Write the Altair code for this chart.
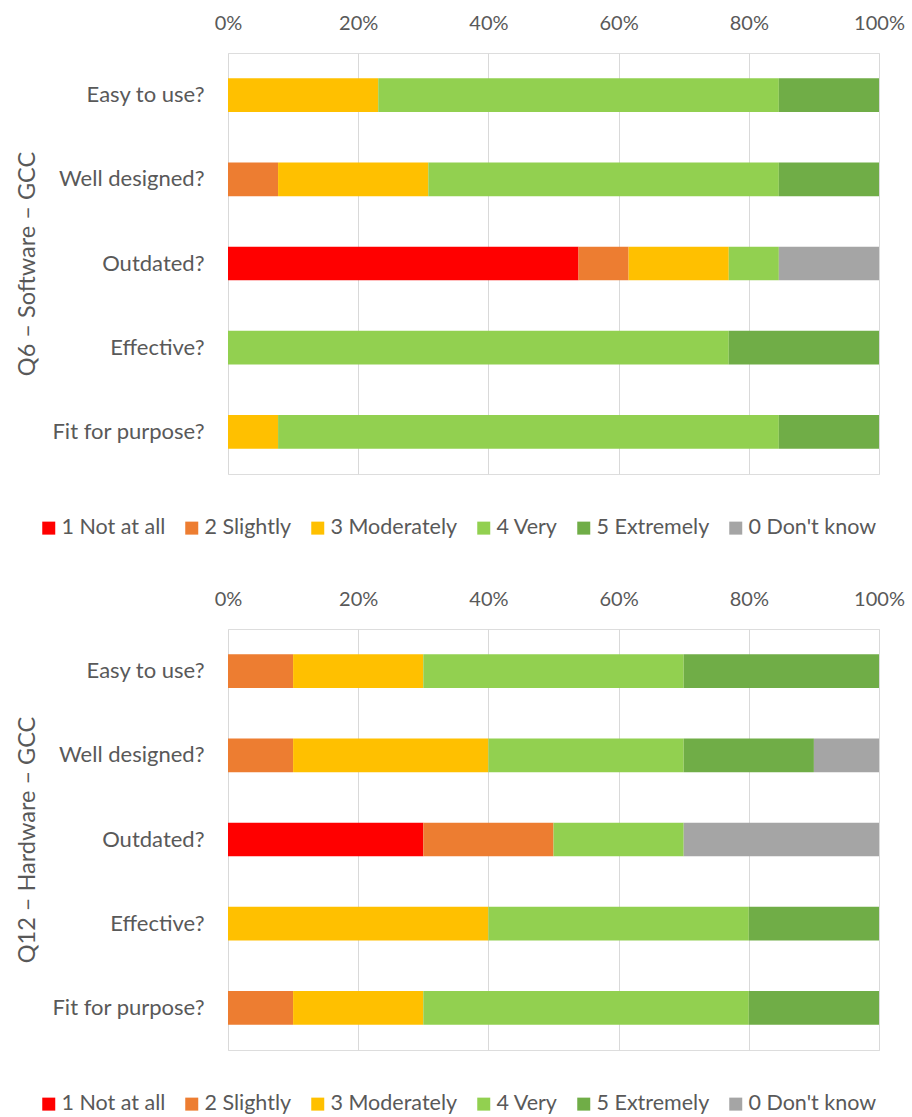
import altair as alt
import pandas as pd

# Survey questions (top to bottom) and the answer scale (stack order, left to right)
questions = ["Easy to use?", "Well designed?", "Outdated?", "Effective?", "Fit for purpose?"]
ratings = ["1 Not at all", "2 Slightly", "3 Moderately", "4 Very", "5 Extremely", "0 Don't know"]
rating_colors = ["#FF0000", "#ED7D31", "#FFC000", "#92D050", "#70AD47", "#A5A5A5"]

# Q6 – Software: number of respondents per answer, one entry per question
sw_not_at_all = [0, 0, 7, 0, 0]
sw_slightly = [0, 1, 1, 0, 0]
sw_moderately = [3, 3, 2, 0, 1]
sw_very = [8, 7, 1, 10, 10]
sw_extremely = [2, 2, 0, 3, 2]
sw_dont_know = [0, 0, 2, 0, 0]

# Q12 – Hardware: number of respondents per answer, one entry per question
hw_not_at_all = [0, 0, 3, 0, 0]
hw_slightly = [1, 1, 2, 0, 1]
hw_moderately = [2, 3, 0, 4, 2]
hw_very = [4, 3, 2, 4, 5]
hw_extremely = [3, 2, 0, 2, 2]
hw_dont_know = [0, 1, 3, 0, 0]

FONT = "Lato"
GREY_TEXT = "#595959"
PLOT_W, PLOT_H = 651, 421


def build_frame(series):
    rows = []
    for rank, (rating, counts) in enumerate(zip(ratings, series)):
        for question, count in zip(questions, counts):
            if count:
                rows.append({"question": question, "rating": rating,
                             "rank": rank, "count": count})
    return pd.DataFrame(rows)


def panel(series, title):
    return alt.Chart(build_frame(series)).mark_bar().encode(
        x=alt.X(
            "count:Q", stack="normalize",
            scale=alt.Scale(domain=[0, 1], nice=False),
            axis=alt.Axis(
                orient="top", format=".0%", values=[0, 0.2, 0.4, 0.6, 0.8, 1],
                title=None, domain=False, ticks=False, grid=True,
                gridColor="#D9D9D9", gridWidth=1, labelFlush=False,
                labelFont=FONT, labelFontSize=20, labelColor=GREY_TEXT,
                labelPadding=20,
            ),
        ),
        y=alt.Y(
            "question:N", sort=questions,
            scale=alt.Scale(paddingInner=0.6, paddingOuter=0.3),
            axis=alt.Axis(
                title=title, domain=False, ticks=False,
                labelFont=FONT, labelFontSize=22, labelColor=GREY_TEXT,
                labelPadding=24, labelLimit=300,
                titleFont=FONT, titleFontSize=23.5, titleFontWeight="normal",
                titleColor=GREY_TEXT, titleAngle=270, titleAlign="center",
                titleBaseline="middle", titleX=-201, titleY=PLOT_H / 2,
            ),
        ),
        color=alt.Color(
            "rating:N",
            scale=alt.Scale(domain=ratings, range=rating_colors),
            legend=alt.Legend(
                orient="none", legendX=-190, legendY=464, direction="horizontal",
                title=None, symbolType="square", symbolSize=169,
                symbolStrokeWidth=0, labelFont=FONT, labelFontSize=21.5,
                labelColor=GREY_TEXT, labelOffset=2, columnPadding=15,
                labelLimit=300,
            ),
        ),
        order=alt.Order("rank:Q"),
    ).properties(width=PLOT_W, height=PLOT_H)


software = panel([sw_not_at_all, sw_slightly, sw_moderately, sw_very,
                  sw_extremely, sw_dont_know], "Q6 – Software – GCC")
hardware = panel([hw_not_at_all, hw_slightly, hw_moderately, hw_very,
                  hw_extremely, hw_dont_know], "Q12 – Hardware – GCC")

chart = alt.vconcat(software, hardware, spacing=155, bounds="flush").resolve_scale(
    color="independent"
).properties(
    padding={"left": 14, "top": 12, "right": 0, "bottom": 0},
).configure_view(stroke=None).configure(background="white")

chart.save("out.html", embed_options={"renderer": "svg", "actions": False})
